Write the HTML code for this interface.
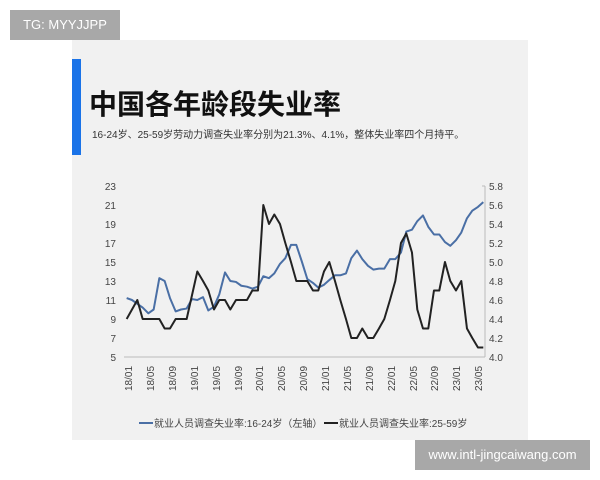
<!DOCTYPE html>
<html><head><meta charset="utf-8"><style>
body{margin:0;width:600px;height:480px;background:#fff;position:relative;overflow:hidden;font-family:"Liberation Sans","Noto Sans CJK SC",sans-serif}
.panel{position:absolute;left:72px;top:40px;width:456px;height:400px;background:#f1f1f1}
.bar{position:absolute;left:72px;top:59px;width:9px;height:96px;background:#1a73e8}
.t{position:absolute;left:89px;top:83px;font-size:28px;font-weight:bold;color:#111}
.s{position:absolute;left:92px;top:126px;font-size:10px;color:#333}
.wm1{position:absolute;left:10px;top:10px;width:110px;height:30px;background:#a8a8a8;color:#fff;font-size:13px;line-height:30px;text-align:center}
.wm2{position:absolute;left:415px;top:440px;width:175px;height:30px;background:#a8a8a8;color:#fff;font-size:13px;line-height:30px;text-align:center}
</style></head><body>
<div class="wm1">TG: MYYJJPP</div>
<div class="panel"></div>
<div class="bar"></div>
<div class="t">中国各年龄段失业率</div>
<div class="s">16-24岁、25-59岁劳动力调查失业率分别为21.3%、4.1%，整体失业率四个月持平。</div>
<svg width="600" height="480" style="position:absolute;left:0;top:0" font-family="Liberation Sans, sans-serif">
<g font-size="10" fill="#444" text-anchor="end">
<text x="116" y="190">23</text><text x="116" y="209">21</text><text x="116" y="228">19</text><text x="116" y="247">17</text><text x="116" y="266">15</text><text x="116" y="285">13</text><text x="116" y="304">11</text><text x="116" y="323">9</text><text x="116" y="342">7</text><text x="116" y="361">5</text>
</g>
<g font-size="10" fill="#444">
<text x="489" y="190">5.8</text><text x="489" y="209">5.6</text><text x="489" y="228">5.4</text><text x="489" y="247">5.2</text><text x="489" y="266">5.0</text><text x="489" y="285">4.8</text><text x="489" y="304">4.6</text><text x="489" y="323">4.4</text><text x="489" y="342">4.2</text><text x="489" y="361">4.0</text>
</g>
<line x1="124" y1="357" x2="484" y2="357" stroke="#bbb"/>
<line x1="485" y1="186" x2="485" y2="357" stroke="#bbb"/>
<g stroke="#bbb"><line x1="485" y1="186" x2="482" y2="186"/><line x1="485" y1="357" x2="482" y2="357"/></g>
<g font-size="10" fill="#444">
<text transform="translate(132,391) rotate(-90)">18/01</text>
<text transform="translate(154,391) rotate(-90)">18/05</text>
<text transform="translate(176,391) rotate(-90)">18/09</text>
<text transform="translate(198,391) rotate(-90)">19/01</text>
<text transform="translate(220,391) rotate(-90)">19/05</text>
<text transform="translate(242,391) rotate(-90)">19/09</text>
<text transform="translate(263,391) rotate(-90)">20/01</text>
<text transform="translate(285,391) rotate(-90)">20/05</text>
<text transform="translate(307,391) rotate(-90)">20/09</text>
<text transform="translate(329,391) rotate(-90)">21/01</text>
<text transform="translate(351,391) rotate(-90)">21/05</text>
<text transform="translate(373,391) rotate(-90)">21/09</text>
<text transform="translate(395,391) rotate(-90)">22/01</text>
<text transform="translate(417,391) rotate(-90)">22/05</text>
<text transform="translate(438,391) rotate(-90)">22/09</text>
<text transform="translate(460,391) rotate(-90)">23/01</text>
<text transform="translate(482,391) rotate(-90)">23/05</text>
</g>
<g transform="matrix(0.3333 0 0 -9.5 80 404.5)" fill="none" stroke-linejoin="round">
<polyline vector-effect="non-scaling-stroke" stroke="#4a6fa5" stroke-width="2" points="140,11.2 156,11 172,10.6 188,10.2 205,9.6 221,10 238,13.3 254,13 270,11.2 287,9.8 303,10 320,10.1 336,11.1 352,11 369,11.3 385,9.9 402,10.3 418,11.6 435,13.9 451,13 468,12.9 484,12.5 501,12.4 517,12.2 534,12.4 550,13.5 567,13.3 583,13.8 600,14.8 616,15.4 633,16.8 649,16.8 666,15 682,13.2 699,12.8 715,12.3 732,12.6 748,13.1 765,13.6 781,13.6 798,13.8 814,15.4 831,16.2 847,15.3 864,14.6 880,14.2 897,14.3 913,14.3 930,15.3 946,15.3 963,16 979,18.2 996,18.4 1012,19.3 1029,19.9 1045,18.7 1062,17.9 1078,17.9 1095,17.1 1111,16.7 1128,17.3 1144,18.1 1161,19.6 1177,20.4 1194,20.8 1210,21.3"/>
<polyline vector-effect="non-scaling-stroke" stroke="#222" stroke-width="2" points="140,9 156,10 172,11 188,9 205,9 221,9 238,9 254,8 270,8 287,9 303,9 320,9 336,11.5 352,14 369,13 385,12 402,10 418,11 435,11 451,10 468,11 484,11 501,11 517,12 534,12 550,21 567,19 583,20 600,19 616,17 633,15 649,13 666,13 682,13 699,12 715,12 732,14 748,15 765,13 781,11 798,9 814,7 831,7 847,8 864,7 880,7 897,8 913,9 930,11 946,13 963,17 979,18 996,16 1012,10 1029,8 1045,8 1062,12 1078,12 1095,15 1111,13 1128,12 1144,13 1161,8 1177,7 1194,6 1210,6"/>
</g>
<line x1="139" y1="423" x2="153" y2="423" stroke="#4a6fa5" stroke-width="2"/>
<text x="154" y="427" font-size="10" fill="#444" font-family="Liberation Sans, Noto Sans CJK SC, sans-serif">就业人员调查失业率:16-24岁（左轴）</text>
<line x1="324" y1="423" x2="338" y2="423" stroke="#222" stroke-width="2"/>
<text x="339" y="427" font-size="10" fill="#444" font-family="Liberation Sans, Noto Sans CJK SC, sans-serif">就业人员调查失业率:25-59岁</text>
</svg>
<div class="wm2">www.intl-jingcaiwang.com</div>
</body></html>
